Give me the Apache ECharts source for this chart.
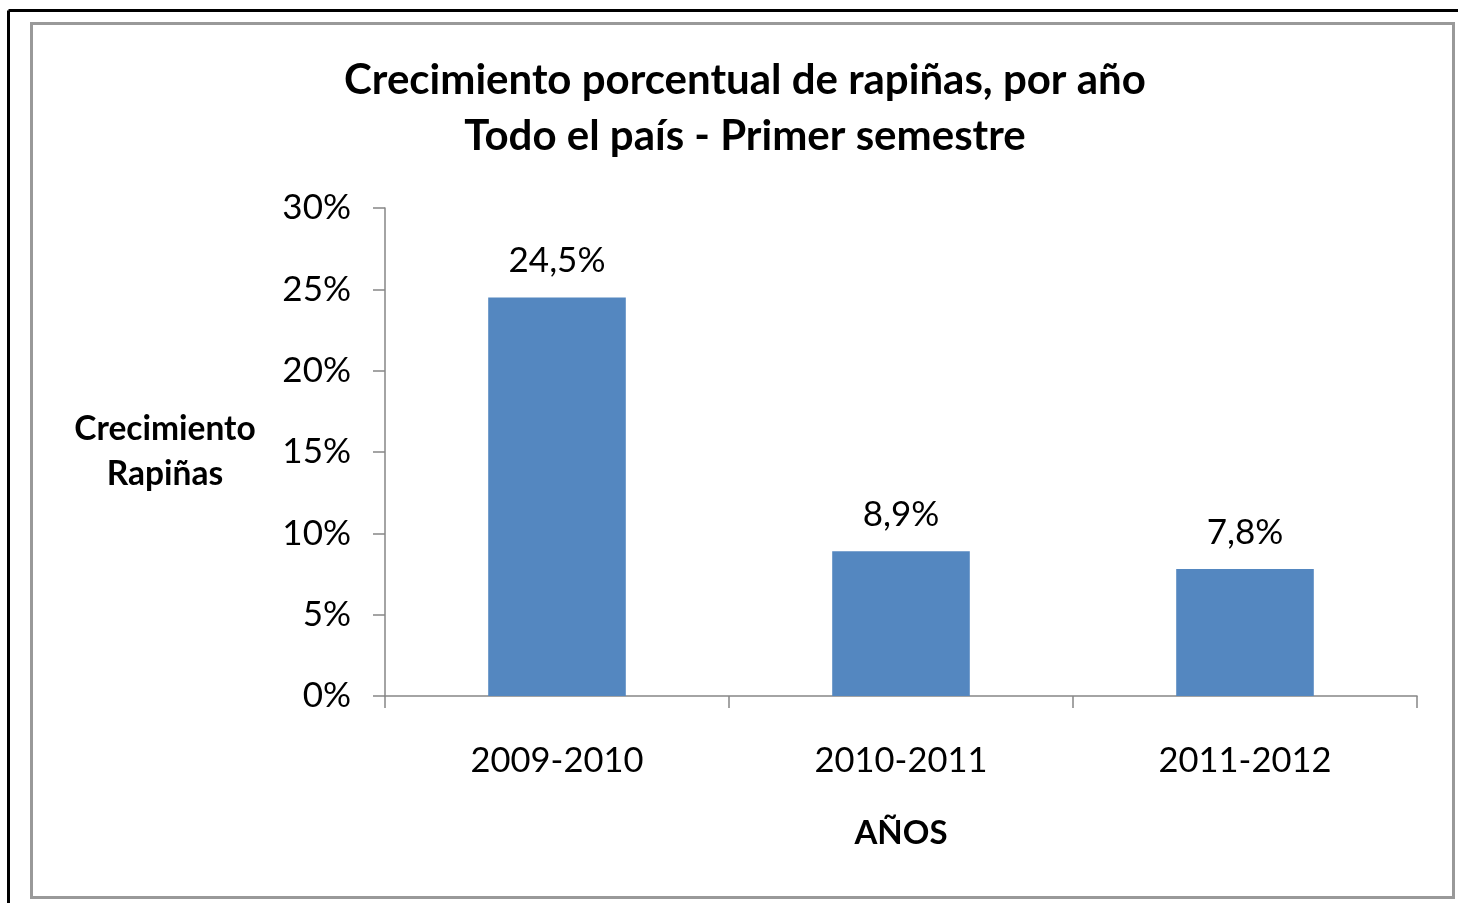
<!DOCTYPE html>
<html>
<head>
<meta charset="utf-8">
<script src="https://cdn.jsdelivr.net/npm/echarts@6/dist/echarts.min.js"></script>
<style>
  html, body { margin: 0; padding: 0; background: #fff; }
  #chart { width: 1458px; height: 903px; }
</style>
</head>
<body>
<div id="chart"></div>
<script>
const periods = ['2009-2010', '2010-2011', '2011-2012']
const growth = [24.5, 8.9, 7.8]
const yTicks = [0, 5, 10, 15, 20, 25, 30]

const fmtPct = v => String(v).replace('.', ',') + '%'

const chart = echarts.init(document.getElementById('chart'))
chart.setOption({
  animation: false,
  backgroundColor: '#fff',
  textStyle: { fontFamily: 'Lato' },
  title: {
    text: 'Crecimiento porcentual de rapiñas, por año\nTodo el país - Primer semestre',
    left: 740,
    top: 47,
    textAlign: 'center',
    textStyle: {
      fontFamily: 'Lato',
      fontWeight: 'bold',
      fontSize: 42,
      lineHeight: 56,
      color: '#000'
    }
  },
  graphic: [
    { type: 'line', shape: { x1: 8.5, y1: 10.5, x2: 1458, y2: 10.5 }, style: { stroke: '#000', lineWidth: 3 } },
    { type: 'line', shape: { x1: 8.5, y1: 10.5, x2: 8.5, y2: 903 }, style: { stroke: '#000', lineWidth: 3 } },
    { type: 'rect', shape: { x: 31.5, y: 23.5, width: 1422, height: 874 }, style: { fill: 'none', stroke: '#999', lineWidth: 3 } }
  ],
  grid: { left: 385, right: 41, top: 208, bottom: 207 },
  xAxis: {
    type: 'category',
    data: periods,
    name: 'AÑOS',
    nameLocation: 'middle',
    nameGap: 121,
    nameTextStyle: { fontFamily: 'Lato', fontWeight: 'bold', fontSize: 33, color: '#000' },
    axisLine: { lineStyle: { color: '#868686', width: 1.5 } },
    axisTick: { show: true, length: 12, alignWithLabel: false, lineStyle: { color: '#868686', width: 1.5 } },
    axisLabel: { fontSize: 34.5, color: '#000', margin: 47 }
  },
  yAxis: {
    type: 'value',
    min: 0,
    max: 30,
    interval: 5,
    name: 'Crecimiento\nRapiñas',
    nameLocation: 'middle',
    nameRotate: 0,
    nameGap: 220,
    nameTextStyle: { fontFamily: 'Lato', fontWeight: 'bold', fontSize: 33.5, lineHeight: 45, align: 'center', color: '#000' },
    splitLine: { show: false },
    axisLine: { show: true, lineStyle: { color: '#868686', width: 1.5 } },
    axisTick: { show: true, length: 12, lineStyle: { color: '#868686', width: 1.5 } },
    axisLabel: {
      fontSize: 35,
      color: '#000',
      margin: 34,
      formatter: v => yTicks.includes(v) ? v + '%' : ''
    }
  },
  series: [{
    type: 'bar',
    data: growth,
    barWidth: '40%',
    itemStyle: { color: '#5487C0' },
    label: {
      show: true,
      position: 'top',
      distance: 19,
      fontSize: 35,
      color: '#000',
      formatter: p => fmtPct(p.value)
    }
  }]
})
</script>
</body>
</html>
